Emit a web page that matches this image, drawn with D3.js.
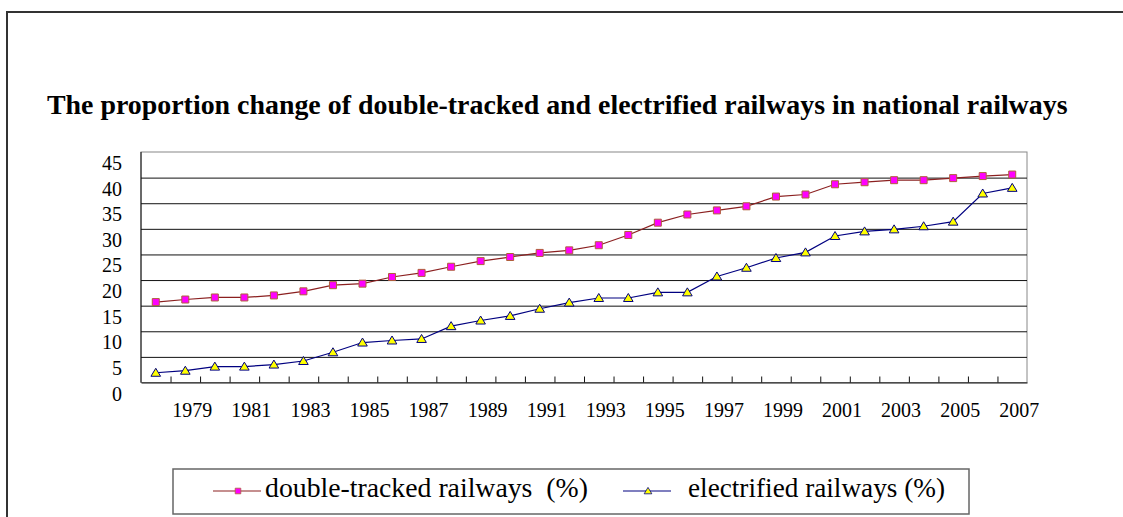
<!DOCTYPE html>
<html>
<head>
<meta charset="utf-8">
<script src="https://cdn.jsdelivr.net/npm/d3@7/dist/d3.min.js"></script>
</head>
<body style="margin:0">
<svg id="chart" width="1123" height="517"></svg>
<script>
// data
var years = d3.range(1978, 2008);
var doubleTracked = [15.7, 16.2, 16.6, 16.6, 17.0, 17.8, 19.0, 19.3, 20.6, 21.4,
    22.6, 23.7, 24.5, 25.3, 25.8, 26.8, 28.8, 31.2, 32.8, 33.6,
    34.4, 36.3, 36.7, 38.7, 39.1, 39.5, 39.5, 39.9, 40.3, 40.6];
var electrified = [1.9, 2.3, 3.1, 3.1, 3.5, 4.2, 5.9, 7.8, 8.2, 8.5,
    11.0, 12.1, 13.0, 14.4, 15.6, 16.5, 16.5, 17.6, 17.6, 20.7,
    22.4, 24.3, 25.4, 28.6, 29.5, 29.9, 30.5, 31.4, 36.9, 38.0];
var yTicks = [0, 5, 10, 15, 20, 25, 30, 35, 40, 45];
var gridTicks = [5, 10, 15, 20, 25, 30, 35, 40];
var xLabelYears = years.filter(y => y % 2 === 1);
var titleText = "The proportion change of double-tracked and electrified railways in national railways";
var seriesNames = ["double-tracked railways\u00a0\u00a0(%)", "electrified railways\u00a0(%)"];

var FONT = "Liberation Serif";

var svg = d3.select("#chart"),
    cs = {
        left: 141, right: 1027, top: 152, bottom: 382.5,
        red: { line: "#8b2020", fill: "#ff00ff", stroke: "#b0603a" },
        blue: { line: "#000080", fill: "#ffff00", stroke: "#000080" }
    };

cs.x = d3.scaleBand().domain(years).range([cs.left, cs.right]).padding(0);
cs.xEdge = d3.scaleLinear().domain([0, years.length]).range([cs.left, cs.right]);
cs.y = d3.scaleLinear().domain([0, 45]).range([cs.bottom, cs.top]);

// text squeezed to a given width with a scale transform; anchor: 0 start, 0.5 middle, 1 end
function label(parent, str, x, y, size, width, anchor, bold) {
    var t = parent.append("text")
        .attr("font-family", FONT)
        .style("font-family", FONT)
        .style("font-size", size + "px")
        .style("font-weight", bold ? "bold" : "normal")
        .attr("fill", "#000").text(str);
    var w = t.node().getComputedTextLength() || width;
    var k = width / w;
    t.attr("transform", "translate(" + (x - anchor * width) + "," + y + ") scale(" + k + ",1)");
    return t;
}

// outer frame
svg.append("rect")
    .attr("x", 7).attr("y", 12).attr("width", 1140).attr("height", 540)
    .attr("fill", "none").attr("stroke", "#333").attr("stroke-width", 2);

// title
label(svg, titleText, 47, 114, 28, 1021, 0, true);

// plot border (top/right grey)
svg.append("rect")
    .attr("x", cs.left).attr("y", cs.top)
    .attr("width", cs.right - cs.left).attr("height", cs.bottom - cs.top)
    .attr("fill", "none").attr("stroke", "#888").attr("stroke-width", 1);

// gridlines
svg.append("g")
    .attr("transform", "translate(" + cs.left + ",0)")
    .call(d3.axisLeft(cs.y).tickValues(gridTicks).tickSize(-(cs.right - cs.left)).tickFormat(""))
    .call(g => g.select(".domain").remove())
    .call(g => g.selectAll("line").attr("stroke", "#111"));

// left axis line
svg.append("line")
    .attr("x1", cs.left).attr("x2", cs.left).attr("y1", cs.top).attr("y2", cs.bottom)
    .attr("stroke", "#111");

// y labels (sit a little below their gridlines, as in the original)
var yLab = svg.append("g");
yTicks.forEach(v => label(yLab, String(v), 122, cs.y(v) + 18, 22, String(v).length * 10, 1));

// bottom axis line + inside ticks
svg.append("g")
    .attr("transform", "translate(0," + cs.bottom + ")")
    .call(d3.axisBottom(cs.xEdge).tickValues(d3.range(1, years.length)).tickSizeInner(-6).tickSizeOuter(0).tickFormat(""))
    .call(g => g.select(".domain").attr("stroke", "#111"))
    .call(g => g.selectAll("line").attr("stroke", "#111"));

// x labels
var xLab = svg.append("g");
xLabelYears.forEach(yr => label(xLab, String(yr), cs.x(yr) + cs.x.bandwidth() / 2 + 7, cs.bottom + 34, 22, 40, 0.5));

var cx = (d, i) => cs.x(years[i]) + cs.x.bandwidth() / 2;

function drawSeries(values, pal, marker) {
    var line = d3.line().x((d, i) => cx(d, i)).y(d => cs.y(d));
    svg.append("path").datum(values)
        .attr("d", line).attr("fill", "none")
        .attr("stroke", pal.line).attr("stroke-width", 1.2);
    svg.append("g").selectAll("path").data(values).enter().append("path")
        .attr("transform", (d, i) => "translate(" + cx(d, i) + "," + cs.y(d) + ")")
        .attr("d", marker)
        .attr("fill", pal.fill).attr("stroke", pal.stroke).attr("stroke-width", 1);
}

var squareMark = "M-3.5,-3.5H3.5V3.5H-3.5Z";
var triMark = "M0,-4.5L4.8,3.5H-4.8Z";

drawSeries(doubleTracked, cs.red, squareMark);
drawSeries(electrified, cs.blue, triMark);

// legend
var leg = svg.append("g");
leg.append("rect")
    .attr("x", 173).attr("y", 469).attr("width", 796).attr("height", 45)
    .attr("fill", "#fff").attr("stroke", "#666").attr("stroke-width", 1.5);

var legItems = [
    { name: seriesNames[0], pal: cs.red, marker: squareMark, x: 213, tx: 265, tl: 323 },
    { name: seriesNames[1], pal: cs.blue, marker: triMark, x: 623, tx: 688, tl: 257 }
];
legItems.forEach(function (it) {
    leg.append("line")
        .attr("x1", it.x).attr("x2", it.x + 48).attr("y1", 491).attr("y2", 491)
        .attr("stroke", it.pal.line).attr("stroke-width", 1.2);
    leg.append("path")
        .attr("transform", "translate(" + (it.x + 25) + ",491) scale(0.8)")
        .attr("d", it.marker)
        .attr("fill", it.pal.fill).attr("stroke", it.pal.stroke);
    label(leg, it.name, it.tx, 497, 27, it.tl, 0);
});
</script>
</body>
</html>
